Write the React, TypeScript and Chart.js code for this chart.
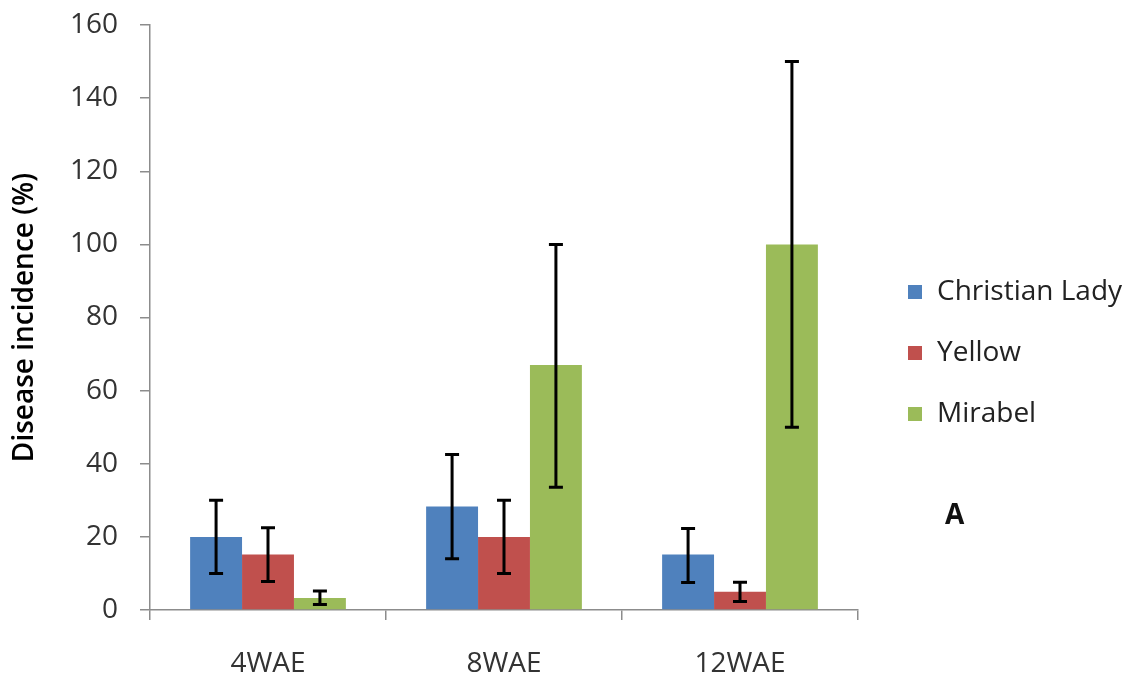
import React, { useEffect, useRef } from "react";
import { Chart, registerables } from "chart.js";

Chart.register(...registerables);

// Sampling times (weeks after emergence)
const categories = ["4WAE", "8WAE", "12WAE"];

// Mean disease incidence (%) per variety
const christianLady = [20, 28.3, 15.2];
const yellow = [15.2, 20, 5];
const mirabel = [3.3, 67, 100];

// Error bar extents (lower / upper), per variety
const christianLadyLow = [10, 14, 7.5];
const christianLadyHigh = [30, 42.5, 22.3];
const yellowLow = [7.8, 10, 2.3];
const yellowHigh = [22.5, 30, 7.6];
const mirabelLow = [1.5, 33.6, 50];
const mirabelHigh = [5.2, 100, 150];

// Y axis ticks
const yMin = 0;
const yMax = 160;
const yStep = 20;

const seriesNames = ["Christian Lady", "Yellow", "Mirabel"];
const seriesColors = ["#4F81BD", "#C0504D", "#9BBB59"];
const panelLabel = "A";

const FONT = "'Open Sans', 'Liberation Sans', sans-serif";
const FONT_SIZE = 28;

const errorBarPlugin = {
  id: "errorBars",
  afterDatasetsDraw(chart: any) {
    const ctx = chart.ctx;
    const yScale = chart.scales.y;
    chart.data.datasets.forEach((ds: any, i: number) => {
      const meta = chart.getDatasetMeta(i);
      meta.data.forEach((bar: any, j: number) => {
        const x = bar.x;
        const yLo = yScale.getPixelForValue(ds.errLow[j]);
        const yHi = yScale.getPixelForValue(ds.errHigh[j]);
        const cap = 7;
        ctx.save();
        ctx.strokeStyle = "#000";
        ctx.lineWidth = 3;
        ctx.beginPath();
        ctx.moveTo(x, yLo);
        ctx.lineTo(x, yHi);
        ctx.moveTo(x - cap, yLo);
        ctx.lineTo(x + cap, yLo);
        ctx.moveTo(x - cap, yHi);
        ctx.lineTo(x + cap, yHi);
        ctx.stroke();
        ctx.restore();
      });
    });
  },
};

const sideLegendPlugin = {
  id: "sideLegend",
  afterDraw(chart: any) {
    const ctx = chart.ctx;
    const area = chart.chartArea;
    const x0 = area.right + 50;
    const yStart = 292;
    const gap = 61;
    ctx.save();
    ctx.font = `${FONT_SIZE}px ${FONT}`;
    ctx.textBaseline = "middle";
    ctx.textAlign = "left";
    chart.data.datasets.forEach((ds: any, i: number) => {
      const cy = yStart + i * gap;
      ctx.fillStyle = ds.backgroundColor;
      ctx.fillRect(x0, cy - 7, 14, 14);
      ctx.fillStyle = "#222";
      ctx.fillText(ds.label, x0 + 29, cy);
    });
    ctx.font = `bold ${FONT_SIZE}px ${FONT}`;
    ctx.fillStyle = "#111";
    ctx.fillText(panelLabel, x0 + 37, 516);
    ctx.restore();
  },
};

export default function App() {
  const canvasRef = useRef<HTMLCanvasElement | null>(null);

  useEffect(() => {
    document.body.style.margin = "0";
    const canvas = canvasRef.current;
    if (!canvas) return;
    const lows = [christianLadyLow, yellowLow, mirabelLow];
    const highs = [christianLadyHigh, yellowHigh, mirabelHigh];
    const values = [christianLady, yellow, mirabel];

    const chart = new Chart(canvas, {
      type: "bar",
      data: {
        labels: categories,
        datasets: values.map((v, i) => ({
          label: seriesNames[i],
          data: v,
          backgroundColor: seriesColors[i],
          borderWidth: 0,
          categoryPercentage: 0.66,
          barPercentage: 1,
          errLow: lows[i],
          errHigh: highs[i],
        })) as any,
      },
      options: {
        responsive: false,
        animation: false,
        maintainAspectRatio: false,
        layout: { padding: { top: 25, right: 274, left: 0, bottom: 0 } },
        plugins: {
          legend: { display: false },
          tooltip: { enabled: false },
        },
        scales: {
          x: {
            grid: {
              display: true,
              offset: true,
              drawOnChartArea: false,
              drawTicks: true,
              tickLength: 10,
              color: "#8c8c8c",
              lineWidth: 1.5,
            },
            border: { display: true, color: "#8c8c8c", width: 1.5 },
            ticks: {
              color: "#333",
              font: { family: FONT, size: FONT_SIZE },
              padding: 27,
            },
            afterFit(scale: any) {
              scale.height = 73;
              scale.paddingLeft = 0;
              scale.paddingRight = 0;
            },
          },
          y: {
            min: yMin,
            max: yMax,
            grid: {
              display: true,
              drawOnChartArea: false,
              drawTicks: true,
              tickLength: 10,
              color: "#8c8c8c",
              lineWidth: 1.5,
            },
            border: { display: true, color: "#8c8c8c", width: 1.5 },
            ticks: {
              stepSize: yStep,
              color: "#333",
              font: { family: FONT, size: FONT_SIZE },
              padding: 22,
            },
            title: {
              display: true,
              text: "Disease incidence (%)",
              color: "#000",
              font: { family: FONT, size: FONT_SIZE, weight: "600" },
              padding: { top: 8, bottom: 0 },
            },
            afterFit(scale: any) {
              scale.width = 150;
              scale.paddingTop = 0;
              scale.paddingBottom = 0;
            },
          },
        },
      } as any,
      plugins: [errorBarPlugin, sideLegendPlugin],
    });
    return () => chart.destroy();
  }, []);

  return (
    <div style={{ position: "relative", width: 1132, height: 683, background: "#fff" }}>
      <canvas ref={canvasRef} width={1132} height={683} style={{ display: "block" }} />
    </div>
  );
}
